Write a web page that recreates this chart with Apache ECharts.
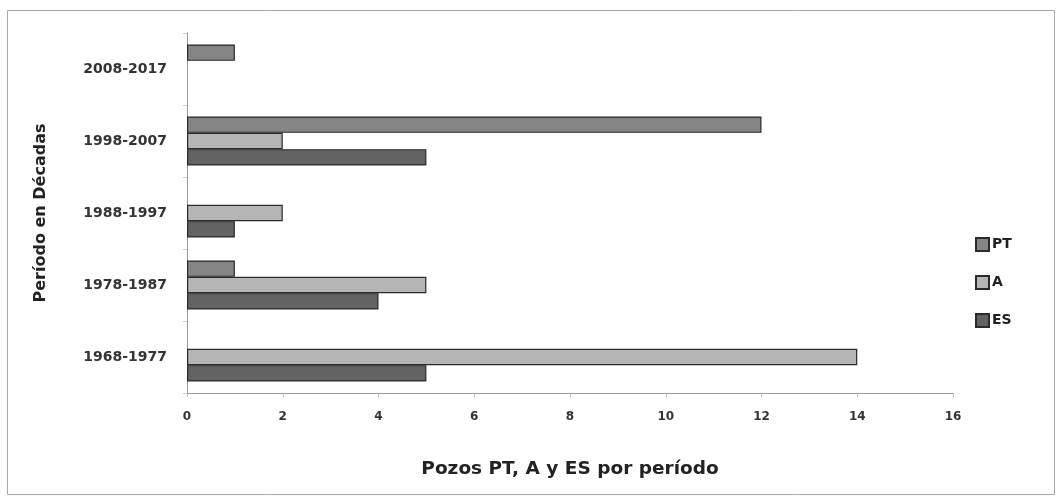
<!DOCTYPE html>
<html><head><meta charset="utf-8">
<script src="https://cdn.jsdelivr.net/npm/echarts@6/dist/echarts.min.js"></script>
<style>html,body{margin:0;padding:0;background:#fff}#c{width:1062px;height:502px}</style>
</head><body><div id="c"></div>
<script>
var categories = ['1968-1977','1978-1987','1988-1997','1998-2007','2008-2017'];
var seriesNames = ['PT','A','ES'];
var ptValues = [null, 1, null, 12, 1];
var aValues = [14, 5, 2, 2, null];
var esValues = [5, 4, 1, 5, null];
var xTicks = [0,2,4,6,8,10,12,14,16];

var colors = {PT:'#858585', A:'#b5b5b5', ES:'#636363'};
var font = 'DejaVu Sans';
function mk(name, data){
  return {name:name, type:'bar', data:data, barGap:'0%', barCategoryGap:'32%',
    itemStyle:{color:colors[name], borderColor:'#2a2a2a', borderWidth:1.2}};
}
var chart = echarts.init(document.getElementById('c'));
chart.setOption({
  animation:false,
  graphic:[{type:'rect', shape:{x:7.5,y:10.5,width:1047,height:484}, style:{fill:'none', stroke:'#a8a8a8', lineWidth:1}}],
  grid:{left:187, right:109, top:33, bottom:109},
  legend:{orient:'vertical', left:970, top:232, itemWidth:13, itemHeight:13, itemGap:23,
    data:seriesNames, icon:'rect',
    textStyle:{fontFamily:font, fontWeight:'bold', fontSize:14, color:'#222', padding:[0,0,0,-2]}},
  xAxis:{type:'value', min:0, max:16, interval:2,
    name:'Pozos PT, A y ES por período', nameLocation:'middle', nameGap:67,
    nameTextStyle:{fontFamily:font, fontWeight:'bold', fontSize:18.5, color:'#222'},
    axisLine:{show:true, lineStyle:{color:'#999'}},
    axisTick:{show:true, length:4, lineStyle:{color:'#bbb'}},
    splitLine:{show:false},
    axisLabel:{fontFamily:font, fontWeight:'bold', fontSize:12, color:'#333', margin:18,
      formatter:function(v){return xTicks.indexOf(v)>=0?String(v):'';}}},
  yAxis:{type:'category', data:categories,
    name:'Período en Décadas', nameLocation:'middle', nameGap:138, nameRotate:90,
    nameTextStyle:{fontFamily:font, fontWeight:'bold', fontSize:16, color:'#222'},
    axisLine:{show:true, lineStyle:{color:'#999'}},
    axisTick:{show:true, length:4, lineStyle:{color:'#ccc'}},
    axisLabel:{fontFamily:font, fontWeight:'bold', fontSize:14, color:'#333', margin:20}},
  series:[mk('PT', ptValues), mk('A', aValues), mk('ES', esValues)]
});
</script></body></html>
